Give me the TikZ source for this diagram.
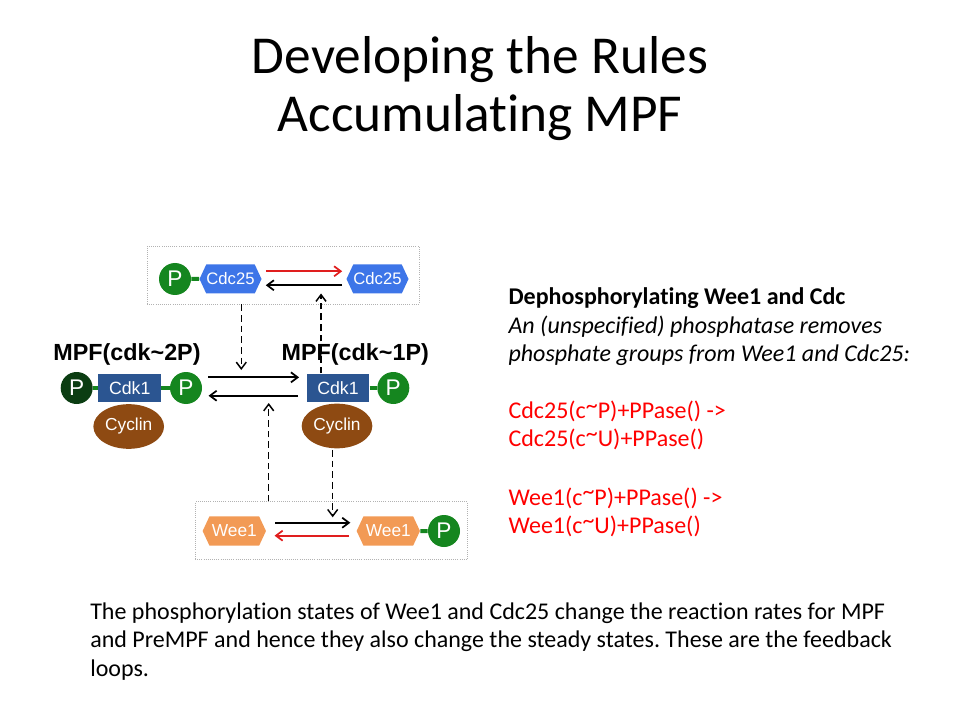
\documentclass[tikz,border=0pt]{standalone}
\usepackage{fontspec}
\setmainfont{Carlito}[Ligatures={TeX,NoCommon}]
\newfontfamily\diagfont{Liberation Sans}
\usepackage{tikz}
\usetikzlibrary{shapes,shapes.symbols,shapes.geometric,arrows.meta,positioning,calc}
\frenchspacing
\newcommand{\hitilde}{\raisebox{0.22em}{\textasciitilde}}

\definecolor{pgreen}{HTML}{15861F}
\definecolor{pdark}{HTML}{0B3D12}
\definecolor{cdcblue}{HTML}{3D75E8}
\definecolor{cdkblue}{HTML}{2B5591}
\definecolor{cycbrown}{HTML}{8E4A12}
\definecolor{weeorange}{HTML}{F29A55}
\definecolor{rxnred}{HTML}{E01E1E}

\tikzset{
    phos/.style={circle, fill=pgreen, text=white, minimum size=24pt, inner sep=0pt,
        font=\diagfont\fontsize{17}{17}\selectfont},
    darkphos/.style={phos, fill=pdark},
    hexa/.style={signal, signal to=east and west, signal pointer angle=130,
        inner sep=0pt, text=white},
    cdcbox/.style={hexa, fill=cdcblue, minimum width=46.5pt, minimum height=21.75pt,
        font=\diagfont\fontsize{12.5}{12.5}\selectfont},
    weebox/.style={hexa, fill=weeorange, minimum width=47.5pt, minimum height=22pt,
        font=\diagfont\fontsize{13}{13}\selectfont},
    cdkbox/.style={rectangle, fill=cdkblue, text=white, minimum width=47pt,
        minimum height=21.5pt, inner sep=0pt, font=\diagfont\fontsize{13.3}{13.3}\selectfont},
    cycbox/.style={ellipse, fill=cycbrown, text=white, minimum width=53pt,
        minimum height=33.5pt, inner sep=0pt, font=\diagfont\fontsize{13}{13}\selectfont},
    dotbox/.style={rectangle, draw=gray!60, densely dotted, line width=0.6pt,
        minimum width=204pt, minimum height=43.5pt, inner sep=0pt},
    bond/.style={draw=pgreen, line width=3pt},
    rxn/.style={-{Straight Barb[length=5pt,width=7.5pt]}, line width=1.3pt},
    feedback/.style={rxn, line width=1.1pt, dash pattern=on 5pt off 3pt},
    mpflabel/.style={anchor=base, inner sep=0pt,
        font=\diagfont\bfseries\fontsize{17.5}{20}\selectfont},
    titleline/.style={anchor=base, inner sep=0pt, font=\fontsize{40}{44}\selectfont},
    body/.style={anchor=base west, inner sep=0pt, font=\fontsize{18}{21.6}\selectfont}
}

\begin{document}
\begin{tikzpicture}[x=0.75pt, y=-0.75pt]
    \useasboundingbox (0,0) rectangle (960,720);

    % Title
    \node[titleline] (title1) at (480,73.3) {Developing the Rules};
    \node[titleline] (title2) at (480,131.7) {Accumulating MPF};

    % Cdc25 module
    \node[dotbox] (topbox) at (283,275) {};
    \node[phos] (pcdc) at (175,279) {P};
    \node[cdcbox] (cdcP) at (230.5,279) {Cdc25};
    \node[cdcbox] (cdcU) at (377.5,279) {Cdc25};
    \draw[bond] (pcdc) -- (cdcP);
    \draw[rxn, rxnred, shorten <=3pt, shorten >=3pt] ([yshift=5.8pt]cdcP.east) -- ([yshift=5.8pt]cdcU.west);
    \draw[rxn, shorten <=3pt, shorten >=3pt] ([yshift=-4.7pt]cdcU.west) -- ([yshift=-4.7pt]cdcP.east);

    % MPF states
    \node[darkphos] (pL1) at (76.7,388) {P};
    \node[cdkbox] (cdkL) at (129.7,388) {Cdk1};
    \node[phos] (pL2) at (186,388) {P};
    \node[cycbox] (cycL) at (128.7,426.5) {Cyclin};
    \draw[bond] (pL1) -- (cdkL);
    \draw[bond] (cdkL) -- (pL2);

    \node[cdkbox] (cdkR) at (338,388) {Cdk1};
    \node[phos] (pR) at (393.3,388) {P};
    \node[cycbox] (cycR) at (337,426) {Cyclin};
    \draw[bond] (cdkR) -- (pR);

    \draw[rxn, shorten <=4.3pt, shorten >=5.5pt] ([yshift=8pt]pL2.east) -- ([yshift=8pt]cdkR.west);
    \draw[rxn, shorten <=6.3pt, shorten >=4.7pt] ([yshift=-5.8pt]cdkR.west) -- ([yshift=-5.8pt]pL2.east);

    % Wee1 module
    \node[dotbox, minimum width=204.5pt, minimum height=43.2pt] (botbox) at (331.3,530.5) {};
    \node[weebox] (weeU) at (234.3,531) {Wee1};
    \node[weebox] (weeP) at (388.3,531) {Wee1};
    \node[phos] (pwee) at (444,531) {P};
    \draw[bond] (weeP) -- (pwee);
    \draw[rxn, shorten <=6.8pt, shorten >=4.5pt] ([yshift=6.2pt]weeU.east) -- ([yshift=6.2pt]weeP.west);
    \draw[rxn, rxnred, shorten <=5.5pt, shorten >=6.2pt] ([yshift=-3.5pt]weeP.west) -- ([yshift=-3.5pt]weeU.east);

    % Feedback (dashed)
    \coordinate (mpfHit) at (241.3,370);
    \coordinate (cdcHit) at (321,293.5);
    \coordinate (mpfBack) at (268.7,403);
    \coordinate (weeHit) at (332.7,517.3);
    \draw[feedback] (mpfHit |- topbox.south) -- (mpfHit);
    \draw[feedback] (cdcHit |- cdkR.north) -- (cdcHit);
    \draw[feedback] (mpfBack |- botbox.north) -- (mpfBack);
    \draw[feedback, shorten <=1pt] (weeHit |- cycR.south) -- (weeHit);

    \node[mpflabel] (mpf2) at (127,360) {MPF(cdk\textasciitilde2P)};
    \node[mpflabel] (mpf1) at (355.3,360) {MPF(cdk\textasciitilde1P)};

    % Rules text
    \node[body] (head) at (508.3,305) {\textbf{Dephosphorylating Wee1 and Cdc}};
    \node[body] (desc1) at (508.3,333.3) {\textit{An (unspecified) phosphatase removes}};
    \node[body] (desc2) at (508.3,361.7) {\textit{phosphate groups from Wee1 and Cdc25:}};
    \node[body, text=red] (rule1a) at (508.3,418.3) {Cdc25(c\hitilde P)+PPase() ->};
    \node[body, text=red] (rule1b) at (508.3,446.7) {Cdc25(c\hitilde U)+PPase()};
    \node[body, text=red] (rule2a) at (508.3,505) {Wee1(c\hitilde P)+PPase() ->};
    \node[body, text=red] (rule2b) at (508.3,533.3) {Wee1(c\hitilde U)+PPase()};

    % Bottom note
    \node[body] (note1) at (90,619) {The phosphorylation states of Wee1 and Cdc25 change the reaction rates for MPF};
    \node[body] (note2) at (90,647.7) {and PreMPF and hence they also change the steady states. These are the feedback};
    \node[body] (note3) at (90,676.3) {loops.};
\end{tikzpicture}
\end{document}
